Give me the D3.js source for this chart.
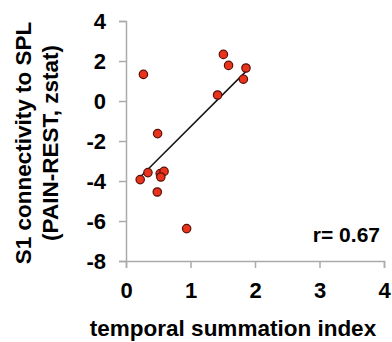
<!DOCTYPE html>
<html>
<head>
<meta charset="utf-8">
<script src="https://cdn.jsdelivr.net/npm/d3@7.9.0/dist/d3.min.js"></script>
<style>
  body { margin: 0; background: #fff; }
  svg { display: block; font-family: "Liberation Sans", Arial, sans-serif; }
</style>
</head>
<body>
<svg width="392" height="342"></svg>
<script>
// temporal summation index vs. S1-SPL connectivity
const tsIndex = [0.27, 0.49, 0.34, 0.22, 0.53, 0.59, 0.54, 0.485, 0.94, 1.51, 1.59, 1.86, 1.82, 1.42];
const zstat   = [1.33, -1.63, -3.58, -3.93, -3.63, -3.52, -3.80, -4.55, -6.38, 2.33, 1.78, 1.65, 1.09, 0.30];
const xTicks = [0, 1, 2, 3, 4];
const yTicks = [4, 2, 0, -2, -4, -6, -8];
const rLabel = 'r= 0.67';

const points = tsIndex.map((x, i) => ({ x: x, y: zstat[i] }));

const svg = d3.select('svg');
const margin = { top: 21, right: 8, bottom: 81, left: 126 };
const width = 392 - margin.left - margin.right;
const height = 342 - margin.top - margin.bottom;

const x = d3.scaleLinear().domain([0, 4]).range([0, width]);
const y = d3.scaleLinear().domain([-8, 4]).range([height, 0]);

const g = svg.append('g').attr('transform', `translate(${margin.left},${margin.top})`);

// axes
const xAxis = g.append('g')
    .attr('transform', `translate(0,${height})`)
    .call(d3.axisBottom(x).tickValues(xTicks).tickFormat(d => String(d)).tickSize(7).tickPadding(10));
const yAxis = g.append('g')
    .call(d3.axisLeft(y).tickValues(yTicks).tickFormat(d => String(d)).tickSize(7).tickPadding(13));

[xAxis, yAxis].forEach(a => {
    a.attr('font-family', null).attr('font-size', null);
    a.select('.domain').attr('stroke', '#aaa').attr('stroke-width', 1.5);
    a.selectAll('.tick line').attr('stroke', '#aaa').attr('stroke-width', 1.5);
    a.selectAll('.tick text')
        .attr('fill', '#000')
        .attr('font-weight', 'bold')
        .attr('font-size', 22);
});
xAxis.selectAll('.tick text').attr('dy', '0.9em');
yAxis.selectAll('.tick text').attr('dy', '0.36em');

// least squares fit line
const mx = d3.mean(tsIndex), my = d3.mean(zstat);
const slope = d3.sum(points, d => (d.x - mx) * (d.y - my)) / d3.sum(points, d => (d.x - mx) ** 2);
const icpt = my - slope * mx;
const [x0, x1] = d3.extent(tsIndex);
g.append('line')
    .attr('x1', x(x0)).attr('y1', y(icpt + slope * x0))
    .attr('x2', x(x1)).attr('y2', y(icpt + slope * x1))
    .attr('stroke', '#111').attr('stroke-width', 1.5);

g.selectAll('circle')
    .data(points)
    .enter()
    .append('circle')
    .attr('cx', d => x(d.x))
    .attr('cy', d => y(d.y))
    .attr('r', 4.2)
    .attr('fill', '#e8341c')
    .attr('stroke', '#5a0f05')
    .attr('stroke-width', 1.2);

g.append('text')
    .attr('x', width - 4).attr('y', y(-7.05))
    .attr('text-anchor', 'end')
    .attr('font-weight', 'bold').attr('font-size', 21)
    .text(rLabel);

// axis titles
svg.append('text')
    .attr('x', 233).attr('y', 336)
    .attr('text-anchor', 'middle')
    .attr('font-weight', 'bold').attr('font-size', 22.5)
    .text('temporal summation index');

const yt = svg.append('text')
    .attr('transform', 'translate(0,143) rotate(-90)')
    .attr('text-anchor', 'middle')
    .attr('font-weight', 'bold').attr('font-size', 22.5);
yt.append('tspan').attr('x', 0).attr('y', 31).text('S1 connectivity to SPL');
yt.append('tspan').attr('x', 0).attr('y', 58).text('(PAIN-REST, zstat)');
</script>
</body>
</html>
